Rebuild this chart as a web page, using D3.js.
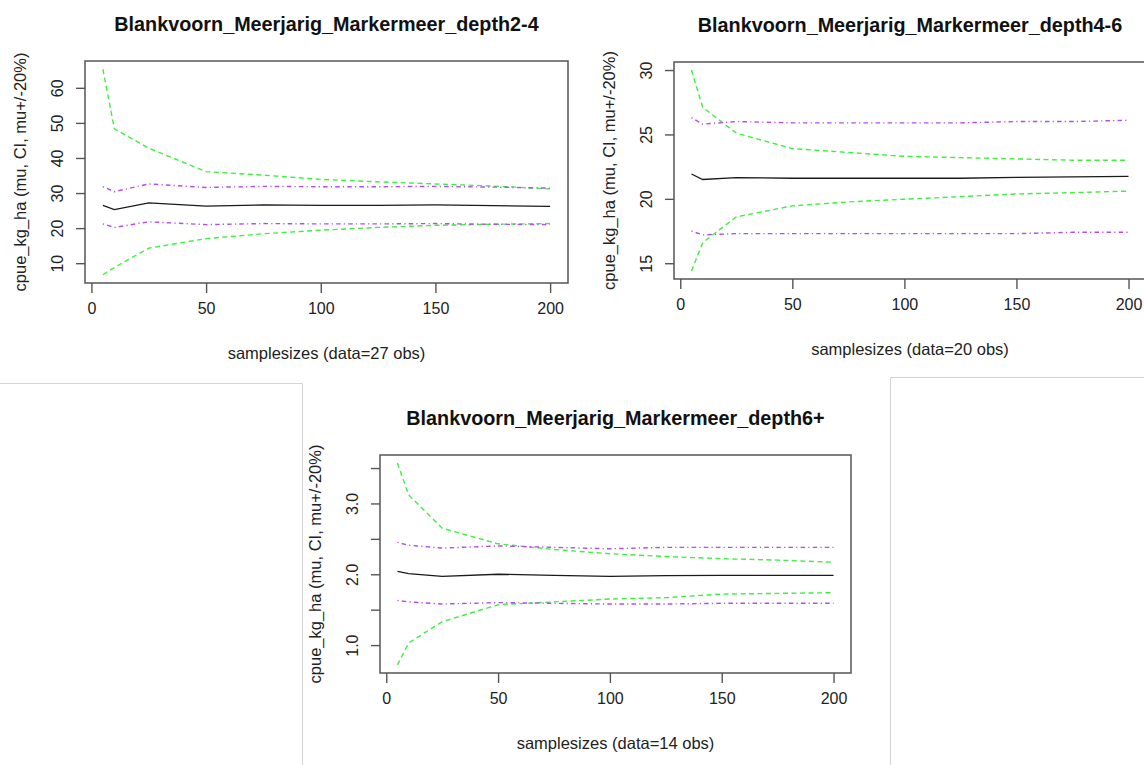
<!DOCTYPE html>
<html>
<head>
<meta charset="utf-8">
<script src="https://cdn.jsdelivr.net/npm/d3@7"></script>
<style>
  body { margin: 0; background: #fff; }
  svg { display: block; font-family: "Liberation Sans", Arial, sans-serif; }
</style>
</head>
<body>
<svg id="chart" width="1144" height="765"></svg>
<script>
// sample sizes used in the resampling runs (same for all three depth classes)
var sampleSizes = [5, 10, 25, 50, 75, 100, 125, 150, 175, 200];
var xTicks = [0, 50, 100, 150, 200];

// depth 2-4 m (27 obs)
var mu24      = [26.5, 25.3, 27.2, 26.3, 26.6, 26.5, 26.5, 26.6, 26.4, 26.2];
var ciLow24   = [6.7, 8.8, 14.3, 17.0, 18.4, 19.4, 20.2, 20.8, 21.1, 21.3];
var ciHigh24  = [65.3, 48.3, 42.8, 36.1, 35.1, 33.9, 33.2, 32.6, 32.0, 31.2];
var pctLow24  = [21.2, 20.2, 21.8, 21.0, 21.3, 21.2, 21.2, 21.3, 21.1, 21.0];
var pctHigh24 = [31.8, 30.4, 32.6, 31.6, 31.9, 31.8, 31.8, 31.9, 31.7, 31.4];
var yTicks24  = [10, 20, 30, 40, 50, 60];
var yLabels24 = ["10", "20", "30", "40", "50", "60"];

// depth 4-6 m (20 obs)
var mu46      = [21.93, 21.5, 21.65, 21.6, 21.6, 21.6, 21.6, 21.67, 21.7, 21.75];
var ciLow46   = [14.4, 16.6, 18.6, 19.45, 19.76, 19.97, 20.17, 20.38, 20.48, 20.6];
var ciHigh46  = [30.0, 27.1, 25.1, 23.9, 23.6, 23.3, 23.2, 23.1, 23.0, 23.0];
var pctLow46  = [17.5, 17.2, 17.3, 17.3, 17.3, 17.3, 17.3, 17.3, 17.4, 17.4];
var pctHigh46 = [26.3, 25.8, 26.0, 25.9, 25.9, 25.9, 25.9, 26.0, 26.0, 26.1];
var yTicks46  = [15, 20, 25, 30];
var yLabels46 = ["15", "20", "25", "30"];

// depth 6+ m (14 obs)
var mu6p      = [2.04, 2.01, 1.97, 2.0, 1.985, 1.97, 1.98, 1.985, 1.985, 1.985];
var ciLow6p   = [0.72, 1.03, 1.33, 1.57, 1.61, 1.65, 1.67, 1.72, 1.73, 1.74];
var ciHigh6p  = [3.57, 3.12, 2.65, 2.43, 2.35, 2.29, 2.25, 2.22, 2.2, 2.17];
var pctLow6p  = [1.63, 1.61, 1.58, 1.6, 1.59, 1.58, 1.58, 1.59, 1.59, 1.59];
var pctHigh6p = [2.45, 2.41, 2.37, 2.4, 2.38, 2.36, 2.38, 2.38, 2.38, 2.38];
var yTicks6p  = [1.0, 1.5, 2.0, 2.5, 3.0, 3.5];
var yLabels6p = ["1.0", "", "2.0", "", "3.0", ""];

var svg = d3.select("#chart");

svg.append("rect").attr("width", 1144).attr("height", 765).attr("fill", "#fff");

// thin frame lines from the pasted screenshots
var frame = svg.append("g").attr("stroke", "#d4d4d4").attr("stroke-width", 1).attr("fill", "none");
frame.append("path").attr("d", "M0,383.5H302.5V765");
frame.append("path").attr("d", "M1144,377.5H890.5V765");

// R style axis range: data range stretched by 4% at both ends
function rPad(ext) {
  var d = (ext[1] - ext[0]) * 0.04;
  return [ext[0] - d, ext[1] + d];
}

function drawPanel(p) {
  var g = svg.append("g");
  var x = d3.scaleLinear()
      .domain(rPad(d3.extent(sampleSizes)))
      .range([p.left, p.right]);
  var all = [].concat(p.mu, p.ciLow, p.ciHigh, p.pctLow, p.pctHigh);
  var y = d3.scaleLinear()
      .domain(rPad(d3.extent(all)))
      .range([p.bottom, p.top]);

  var line = d3.line()
      .x(function(d, i) { return x(sampleSizes[i]); })
      .y(function(d) { return y(d); });

  // series: mu (black), CI (green dashed), mu +/- 20% (purple dot-dash)
  g.append("path").datum(p.mu).attr("d", line)
      .attr("fill", "none").attr("stroke", "#1a1a1a").attr("stroke-width", 1.3);
  [p.ciLow, p.ciHigh].forEach(function(s) {
    g.append("path").datum(s).attr("d", line)
        .attr("fill", "none").attr("stroke", "#3cf03c").attr("stroke-width", 1.4)
        .attr("stroke-dasharray", "5,3.5");
  });
  [p.pctLow, p.pctHigh].forEach(function(s) {
    g.append("path").datum(s).attr("d", line)
        .attr("fill", "none").attr("stroke", "#b04cf2").attr("stroke-width", 1.4)
        .attr("stroke-dasharray", "1.2,3.2,4.5,3.2");
  });

  // box
  g.append("rect")
      .attr("x", p.left).attr("y", p.top)
      .attr("width", p.right - p.left).attr("height", p.bottom - p.top)
      .attr("fill", "none").attr("stroke", "#555").attr("stroke-width", 1.5);

  // x axis
  var xAxis = d3.axisBottom(x).tickValues(xTicks).tickSize(10).tickPadding(10).tickFormat(d3.format("d"));
  var gx = g.append("g").attr("transform", "translate(0," + p.bottom + ")").call(xAxis);
  gx.select(".domain").remove();
  gx.selectAll(".tick line").attr("stroke", "#555").attr("stroke-width", 1.4);
  gx.selectAll(".tick text").attr("font-size", 16).attr("fill", "#222")
      .attr("font-family", "Liberation Sans, Arial, sans-serif");

  // y axis, labels turned like R's las=0
  var yAxis = d3.axisLeft(y).tickValues(p.yTicks).tickSize(9)
      .tickFormat(function(d, i) { return p.yLabels[i]; });
  var gy = g.append("g").attr("transform", "translate(" + p.left + ",0)").call(yAxis);
  gy.select(".domain").remove();
  gy.selectAll(".tick line").attr("stroke", "#555").attr("stroke-width", 1.4);
  gy.selectAll(".tick text")
      .attr("x", null).attr("dy", null)
      .attr("transform", "translate(-28,0) rotate(-90)")
      .attr("text-anchor", "middle").attr("dominant-baseline", "central")
      .attr("font-size", 16).attr("fill", "#222")
      .attr("font-family", "Liberation Sans, Arial, sans-serif");

  var cx = (p.left + p.right) / 2, cy = (p.top + p.bottom) / 2;

  g.append("text")
      .attr("x", cx).attr("y", p.top - 37)
      .attr("text-anchor", "middle").attr("dominant-baseline", "central")
      .attr("font-size", 19.8).attr("font-weight", "bold").attr("fill", "#111")
      .text(p.title);

  g.append("text")
      .attr("x", cx).attr("y", p.bottom + 70)
      .attr("text-anchor", "middle").attr("dominant-baseline", "central")
      .attr("font-size", 16.5).attr("fill", "#222")
      .text("samplesizes (data=" + p.obs + " obs)");

  g.append("text")
      .attr("transform", "translate(" + (p.left - 65) + "," + cy + ") rotate(-90)")
      .attr("text-anchor", "middle").attr("dominant-baseline", "central")
      .attr("font-size", 16.5).attr("fill", "#222")
      .text("cpue_kg_ha (mu, CI, mu+/-20%)");
}

drawPanel({
  title: "Blankvoorn_Meerjarig_Markermeer_depth2-4", obs: 27,
  mu: mu24, ciLow: ciLow24, ciHigh: ciHigh24, pctLow: pctLow24, pctHigh: pctHigh24,
  yTicks: yTicks24, yLabels: yLabels24,
  left: 85, right: 568, top: 61, bottom: 283
});

drawPanel({
  title: "Blankvoorn_Meerjarig_Markermeer_depth4-6", obs: 20,
  mu: mu46, ciLow: ciLow46, ciHigh: ciHigh46, pctLow: pctLow46, pctHigh: pctHigh46,
  yTicks: yTicks46, yLabels: yLabels46,
  left: 674, right: 1146, top: 62, bottom: 279
});

drawPanel({
  title: "Blankvoorn_Meerjarig_Markermeer_depth6+", obs: 14,
  mu: mu6p, ciLow: ciLow6p, ciHigh: ciHigh6p, pctLow: pctLow6p, pctHigh: pctHigh6p,
  yTicks: yTicks6p, yLabels: yLabels6p,
  left: 380, right: 851, top: 455, bottom: 673
});
</script>
</body>
</html>
